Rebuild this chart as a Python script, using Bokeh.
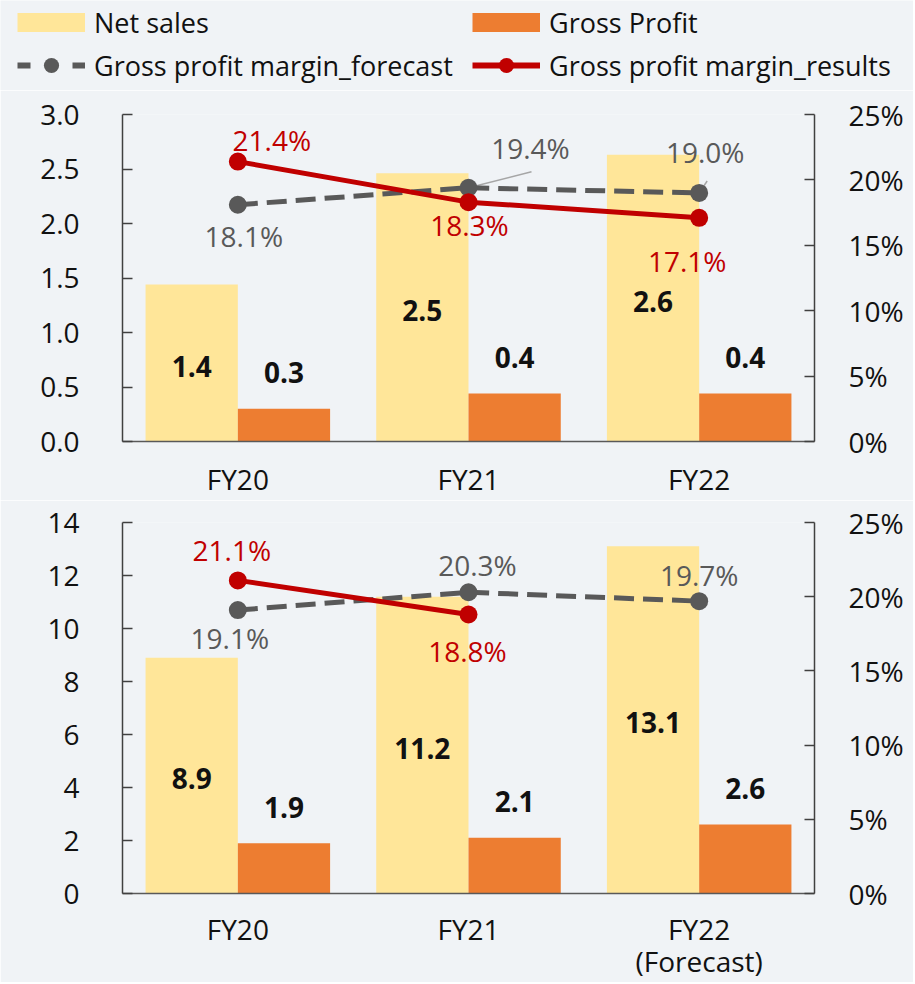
import math
from bokeh.plotting import figure
from bokeh.models import (ColumnDataSource, Range1d, LinearAxis, LabelSet, Legend,
                          LegendItem, PrintfTickFormatter, FixedTicker)
from bokeh.core.properties import value
from bokeh.transform import dodge
from bokeh.layouts import column
from bokeh.embed import file_html
from bokeh.resources import INLINE

# ---------------- data ----------------
categories = ["FY20", "FY21", "FY22"]
last_category_note = "(Forecast)"

series_names = ["Net sales", "Gross Profit",
                "Gross profit margin_forecast", "Gross profit margin_results"]

# upper panel
top_net_sales = [1.44, 2.46, 2.63]
top_gross_profit = [0.30, 0.44, 0.44]
top_margin_forecast = [18.1, 19.4, 19.0]
top_margin_results = [21.4, 18.3, 17.1]
top_left_ticks = [0.0, 0.5, 1.0, 1.5, 2.0, 2.5, 3.0]

# lower panel
bot_net_sales = [8.9, 11.2, 13.1]
bot_gross_profit = [1.9, 2.1, 2.6]
bot_margin_forecast = [19.1, 20.3, 19.7]
bot_margin_results = [21.1, 18.8, float("nan")]
bot_left_ticks = [0, 2, 4, 6, 8, 10, 12, 14]

pct_ticks = [0, 5, 10, 15, 20, 25]

# ---------------- styling / placement ----------------
FONT = "Open Sans"
FS = "28px"
BG = "#F0F3F6"
NS_COLOR = "#FFE699"
GP_COLOR = "#ED7D31"
FC_COLOR = "#595959"
RS_COLOR = "#C00000"
TXT = "#111111"
W = 913

# label offsets in screen px (dx, dy up)
top_fc_off = [(6, -31), (62, 40), (6, 41)]
top_rs_off = [(34, 22), (1, -23), (-12, -43)]
top_fc_leader = [None, (63, 16), (8, 12)]
bot_fc_off = [(-8, -28), (9, 27), (0, 26)]
bot_rs_off = [(-6, 30), (-1, -36), None]
bot_fc_leader = [None, None, None]


def build_panel(cats, net, gp, fc, rs, ymax, yticks, yfmt, h, bt, bb, bl, br,
                fc_off, rs_off, leaders, x_standoff, x_line_height=1.2):
    p = figure(width=W, height=h, x_range=cats, y_range=Range1d(0, ymax),
               toolbar_location=None, output_backend="svg",
               min_border_top=bt, min_border_bottom=bb,
               min_border_left=bl, min_border_right=br,
               background_fill_color=BG, border_fill_color=BG)
    p.outline_line_color = None
    p.grid.visible = False
    p.extra_y_ranges = {"pct": Range1d(0, 25)}

    frame_w = W - bl - br
    frame_h = h - bt - bb
    cat_px = frame_w / len(cats)
    pct_px = frame_h / 25.0

    src = ColumnDataSource(dict(
        cat=cats, ns=net, gp=gp,
        ns_mid=[v / 2 for v in net],
        ns_lbl=[f"{v:.1f}" for v in net],
        gp_lbl=[f"{v:.1f}" for v in gp],
        fc=fc, rs=rs))

    p.vbar(x=dodge("cat", -0.2, range=p.x_range), top="ns", width=0.4, source=src,
           fill_color=NS_COLOR, line_color=None)
    p.vbar(x=dodge("cat", 0.2, range=p.x_range), top="gp", width=0.4, source=src,
           fill_color=GP_COLOR, line_color=None)

    # leader lines from forecast points towards their labels
    lx0, ly0, lx1, ly1 = [], [], [], []
    for i, ld in enumerate(leaders):
        if ld is None:
            continue
        lx0.append(i + 0.5)
        ly0.append(fc[i])
        lx1.append(i + 0.5 + ld[0] / cat_px)
        ly1.append(fc[i] + ld[1] / pct_px)
    if lx0:
        p.segment(x0=lx0, y0=ly0, x1=lx1, y1=ly1, y_range_name="pct",
                  line_color="#A6A6A6", line_width=1.5)

    p.line(x="cat", y="fc", source=src, y_range_name="pct", line_color=FC_COLOR,
           line_width=5, line_dash="20 9")
    p.scatter(x="cat", y="fc", source=src, y_range_name="pct", size=18,
              fill_color=FC_COLOR, line_color=None)
    p.line(x="cat", y="rs", source=src, y_range_name="pct", line_color=RS_COLOR,
           line_width=5)
    p.scatter(x="cat", y="rs", source=src, y_range_name="pct", size=18,
              fill_color=RS_COLOR, line_color=None)

    # bar labels
    p.add_layout(LabelSet(x=dodge("cat", -0.2, range=p.x_range), y="ns_mid", text="ns_lbl",
                          source=src, text_align="center", text_baseline="middle",
                          text_font=value(FONT), text_font_size=value(FS),
                          text_font_style="bold", text_color=TXT, y_offset=-3))
    p.add_layout(LabelSet(x=dodge("cat", 0.2, range=p.x_range), y="gp", text="gp_lbl",
                          source=src, text_align="center", text_baseline="middle",
                          text_font=value(FONT), text_font_size=value(FS),
                          text_font_style="bold", text_color=TXT, y_offset=36))

    # margin labels
    for vals, offs, color in ((fc, fc_off, FC_COLOR), (rs, rs_off, RS_COLOR)):
        d = dict(cat=[], v=[], t=[], dx=[], dy=[])
        for i, v in enumerate(vals):
            if v is None or (isinstance(v, float) and math.isnan(v)) or offs[i] is None:
                continue
            d["cat"].append(cats[i])
            d["v"].append(v)
            d["t"].append(f"{v:.1f}%")
            d["dx"].append(offs[i][0])
            d["dy"].append(offs[i][1])
        p.add_layout(LabelSet(x="cat", y="v", text="t", source=ColumnDataSource(d),
                              y_range_name="pct", x_offset="dx", y_offset="dy",
                              text_align="center", text_baseline="middle",
                              text_font=value(FONT), text_font_size=value(FS),
                              text_color=color))

    # axes
    yax = p.yaxis[0]
    yax.ticker = FixedTicker(ticks=yticks)
    yax.formatter = PrintfTickFormatter(format=yfmt)
    rax = LinearAxis(y_range_name="pct", ticker=FixedTicker(ticks=pct_ticks),
                     formatter=PrintfTickFormatter(format="%d%%"))
    p.add_layout(rax, "right")
    for ax, standoff in ((yax, 43), (rax, 34)):
        ax.major_tick_in = 10
        ax.major_tick_out = 0
        ax.minor_tick_line_color = None
        ax.major_tick_line_color = "#404040"
        ax.major_tick_line_width = 1.5
        ax.axis_line_color = "#404040"
        ax.axis_line_width = 1.5
        ax.major_label_standoff = standoff
        ax.major_label_text_font = FONT
        ax.major_label_text_font_size = FS
        ax.major_label_text_color = TXT
    xax = p.xaxis[0]
    xax.major_tick_in = 0
    xax.major_tick_out = 0
    xax.major_tick_line_color = None
    xax.minor_tick_line_color = None
    xax.axis_line_color = "#595959"
    xax.axis_line_width = 1.5
    xax.major_label_standoff = x_standoff
    xax.major_label_text_font = FONT
    xax.major_label_text_font_size = FS
    xax.major_label_text_color = TXT
    xax.major_label_text_line_height = x_line_height
    return p


# ---------------- legend strip ----------------
lf = figure(width=W, height=90, x_range=Range1d(0, 1), y_range=Range1d(0, 1),
            toolbar_location=None, output_backend="svg", min_border=0,
            background_fill_color=BG, border_fill_color=BG)
if "frame_align" in lf.properties():
    lf.frame_align = False
lf.axis.visible = False
lf.grid.visible = False
lf.outline_line_color = None
anchor = ColumnDataSource(dict(x=[float("nan")], y=[float("nan")]))
r_ns = lf.line(x="x", y="y", source=anchor, line_color=NS_COLOR, line_width=19, line_cap="butt")
r_gp = lf.line(x="x", y="y", source=anchor, line_color=GP_COLOR, line_width=19, line_cap="butt")
r_fc_l = lf.line(x="x", y="y", source=anchor, line_color=FC_COLOR, line_width=6, line_dash="13 42")
r_fc_s = lf.scatter(x="x", y="y", source=anchor, size=18, fill_color=FC_COLOR, line_color=None)
r_rs_l = lf.line(x="x", y="y", source=anchor, line_color=RS_COLOR, line_width=6)
r_rs_s = lf.scatter(x="x", y="y", source=anchor, size=18, fill_color=RS_COLOR, line_color=None)

legend_specs = [
    (series_names[0], [r_ns], (17, 49)),
    (series_names[1], [r_gp], (472, 49)),
    (series_names[2], [r_fc_l, r_fc_s], (17, 6)),
    (series_names[3], [r_rs_l, r_rs_s], (472, 6)),
]
for name, rends, loc in legend_specs:
    lg = Legend(items=[LegendItem(label=name, renderers=rends)], location=loc,
                glyph_width=68, glyph_height=38, label_height=38, label_standoff=9,
                padding=0, margin=0, border_line_color=None, background_fill_alpha=0,
                label_text_font=FONT, label_text_font_size="27px",
                label_text_color=TXT)
    lf.add_layout(lg, "center")

bottom_categories = categories[:-1] + [categories[-1] + "\n" + last_category_note]

top = build_panel(categories, top_net_sales, top_gross_profit, top_margin_forecast,
                  top_margin_results, 3.0, top_left_ticks, "%.1f", 410, 24, 58, 122, 99,
                  top_fc_off, top_rs_off, top_fc_leader, 18)
bot = build_panel(bottom_categories, bot_net_sales, bot_gross_profit, bot_margin_forecast,
                  bot_margin_results, 14, bot_left_ticks, "%d", 482, 22, 89, 122, 99,
                  bot_fc_off, bot_rs_off, bot_fc_leader, 16, x_line_height=0.85)

layout = column(lf, top, bot, spacing=0)
open("out.html", "w").write(file_html(layout, INLINE))
